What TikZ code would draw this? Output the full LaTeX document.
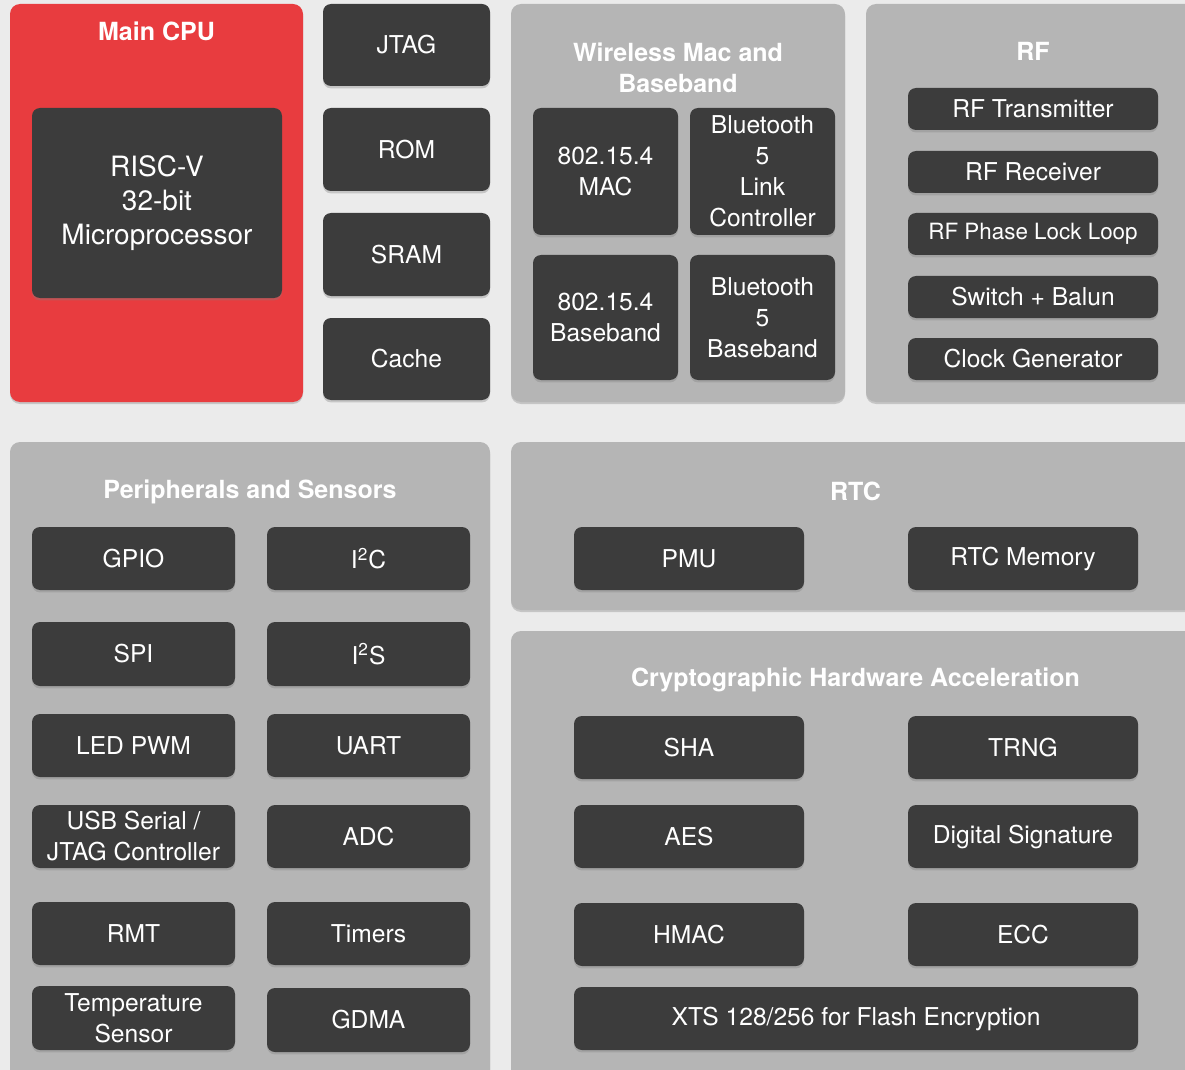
\documentclass[tikz,border=0pt]{standalone}
\usepackage{fontspec}
\setmainfont{TeX Gyre Heros}
\usetikzlibrary{shadows,positioning}

\definecolor{bggray}{HTML}{EBEBEB}
\definecolor{grpgray}{HTML}{B5B5B5}
\definecolor{chipgray}{HTML}{3C3C3C}
\definecolor{cpured}{HTML}{E83C3F}

\newcommand{\chipfont}{\fontsize{12.3}{15.5}\selectfont}
\newcommand{\cpufont}{\fontsize{14}{17}\selectfont}
\newcommand{\titlefont}{\fontsize{12.5}{15.5}\selectfont\bfseries}

% [style]{name}{x1}{y1}{x2}{y2}{text}, corners given in pixels of the picture
\newcommand{\blk}[7][chip]{%
  \node[#1, minimum width={(#5-#3)*0.5pt}, minimum height={(#6-#4)*0.5pt}]
    (#2) at ({(#3+#5)/2},{(#4+#6)/2}) {#7};}

\tikzset{
  grpbox/.style={fill=grpgray, rounded corners=5pt, inner sep=0pt,
    drop shadow={shadow xshift=0pt, shadow yshift=-1pt, opacity=.35}},
  cpubox/.style={grpbox, fill=cpured},
  chip/.style={fill=chipgray, rounded corners=4pt, inner sep=0pt,
    text=white, align=center, font=\chipfont,
    drop shadow={shadow xshift=0pt, shadow yshift=-1.2pt, opacity=.35}},
  grptitle/.style={text=white, align=center, font=\titlefont},
}

\begin{document}
\begin{tikzpicture}[x=0.5pt,y=-0.5pt]

    % Fixes the page and paints the background
    \useasboundingbox (0,0) rectangle (1185,1070);
    \fill[bggray] (0,0) rectangle (1185,1070);
    \clip (0,0) rectangle (1185,1070);

    % Main CPU with its processor
    \blk[cpubox]{cpu}{10}{4}{303}{402}{}
    \node[grptitle] (cputitle) at ([yshift=-14pt]cpu.north) {Main CPU};
    \blk[chip, font=\cpufont]{riscv}{32}{108}{282}{298}{RISC-V\\32-bit\\Microprocessor}

    % Debug and memory column
    \foreach \nm/\ya/\yb in {JTAG/4/86, ROM/108/191, SRAM/213/296, Cache/318/400} {
        \blk{\nm}{323}{\ya}{490}{\yb}{\nm}
    }

    % Wireless MAC and baseband
    \blk[grpbox]{wireless}{511}{4}{845}{402}{}
    \node[grptitle] (wltitle) at ([yshift=-32.25pt]wireless.north) {Wireless Mac and\\Baseband};
    \blk{mac}{533}{108}{678}{235}{802.15.4\\MAC}
    \blk{btlc}{690}{108}{835}{235}{Bluetooth\\5\\Link\\Controller}
    \blk{bb}{533}{255}{678}{380}{802.15.4\\Baseband}
    \blk{btbb}{690}{255}{835}{380}{Bluetooth\\5\\Baseband}

    % RF front end
    \blk[grpbox]{rf}{866}{4}{1200}{402}{}
    \node[grptitle] (rftitle) at ([yshift=-24pt]rf.north) {RF};
    \foreach \nm/\ya/\yb/\txt in {rftx/88/130/RF Transmitter, rfrx/151/193/RF Receiver,
        rfpll/213/255/{\fontsize{11.2}{13}\selectfont RF Phase Lock Loop},
        switch/276/318/Switch + Balun, clkgen/338/380/Clock Generator} {
        \blk{\nm}{908}{\ya}{1158}{\yb}{\txt}
    }

    % Peripherals and sensors, two columns
    \blk[grpbox]{periph}{10}{442}{490}{1085}{}
    \node[grptitle] (pstitle) at ([yshift=-25pt]periph.north) {Peripherals and Sensors};
    \blk{gpio}{32}{527}{235}{590}{GPIO}
    \blk{i2c}{267}{527}{470}{590}{I\textsuperscript{2}C}
    \blk{spi}{32}{622}{235}{686}{SPI}
    \blk{i2s}{267}{622}{470}{686}{I\textsuperscript{2}S}
    \blk{ledpwm}{32}{714}{235}{777}{LED PWM}
    \blk{uart}{267}{714}{470}{777}{UART}
    \blk{usbjtag}{32}{805}{235}{868}{USB Serial /\\JTAG Controller}
    \blk{adc}{267}{805}{470}{868}{ADC}
    \blk{rmt}{32}{902}{235}{965}{RMT}
    \blk{timers}{267}{902}{470}{965}{Timers}
    \blk{tsens}{32}{986}{235}{1050}{Temperature\\Sensor}
    \blk{gdma}{267}{988}{470}{1052}{GDMA}

    % RTC
    \blk[grpbox]{rtc}{511}{442}{1200}{610}{}
    \node[grptitle] (rtctitle) at ([yshift=-25pt]rtc.north) {RTC};
    \blk{pmu}{574}{527}{804}{590}{PMU}
    \blk{rtcmem}{908}{527}{1138}{590}{RTC Memory}

    % Cryptographic hardware acceleration
    \blk[grpbox]{crypto}{511}{631}{1200}{1085}{}
    \node[grptitle] (crtitle) at ([yshift=-24.5pt]crypto.north) {Cryptographic Hardware Acceleration};
    \blk{sha}{574}{716}{804}{779}{SHA}
    \blk{trng}{908}{716}{1138}{779}{TRNG}
    \blk{aes}{574}{805}{804}{868}{AES}
    \blk{dsig}{908}{805}{1138}{868}{Digital Signature}
    \blk{hmac}{574}{903}{804}{966}{HMAC}
    \blk{ecc}{908}{903}{1138}{966}{ECC}
    \blk{xts}{574}{987}{1138}{1050}{XTS 128/256 for Flash Encryption}

\end{tikzpicture}
\end{document}
